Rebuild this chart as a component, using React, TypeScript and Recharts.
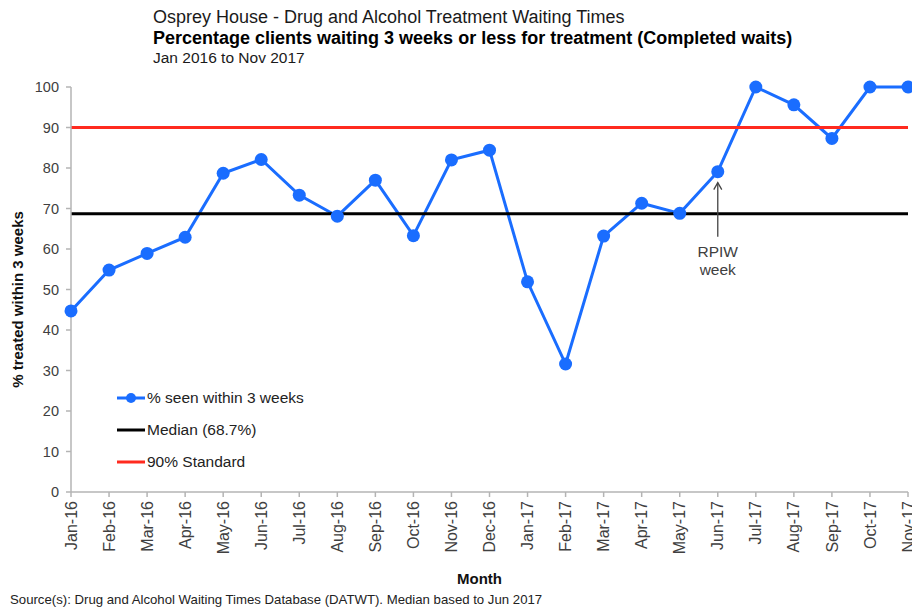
import React from "react";
import {
  LineChart,
  Line,
  XAxis,
  YAxis,
  ReferenceLine,
  ReferenceDot,
  Legend,
} from "recharts";

const MONTHS = [
  "Jan-16", "Feb-16", "Mar-16", "Apr-16", "May-16", "Jun-16", "Jul-16", "Aug-16",
  "Sep-16", "Oct-16", "Nov-16", "Dec-16", "Jan-17", "Feb-17", "Mar-17", "Apr-17",
  "May-17", "Jun-17", "Jul-17", "Aug-17", "Sep-17", "Oct-17", "Nov-17",
];
const PCT_SEEN = [
  44.7, 54.8, 58.9, 62.9, 78.7, 82.1, 73.3, 68.1, 77.0, 63.3, 82.0, 84.4,
  51.9, 31.6, 63.2, 71.3, 68.8, 79.1, 100, 95.6, 87.3, 100, 100,
];
const MEDIAN = 68.7;
const STANDARD = 90;
const Y_TICKS = [0, 10, 20, 30, 40, 50, 60, 70, 80, 90, 100];
const RPIW_MONTH = "Jun-17";

const BLUE = "#1a6dff";
const RED = "#ff2a1f";
const AXIS = "#b4b4b4";
const TEXT = "#404040";
const FONT = '"Liberation Sans", Arial, sans-serif';

const data = MONTHS.map((month, i) => ({ month, seen: PCT_SEEN[i] }));

const XTick = ({ x, y, payload }: any) => (
  <text
    x={x}
    y={y + 2}
    transform={`rotate(-90, ${x}, ${y + 2})`}
    textAnchor="end"
    dy="0.35em"
    fontSize={16}
    fill={TEXT}
  >
    {payload.value}
  </text>
);

// arrow + "RPIW week" note under the Jun-17 point
const RpiwNote = ({ cx, cy }: any) => {
  if (cx == null || cy == null) return null;
  return (
    <g>
      <line x1={cx} y1={cy + 11} x2={cx} y2={cy + 65} stroke="#444" strokeWidth={1.3} />
      <path d={`M${cx - 4},${cy + 18} L${cx},${cy + 11} L${cx + 4},${cy + 18}`} fill="none" stroke="#444" strokeWidth={1.3} />
      <text x={cx} y={cy + 85} textAnchor="middle" fontSize={15.5} fill={TEXT}>RPIW</text>
      <text x={cx} y={cy + 103} textAnchor="middle" fontSize={15.5} fill={TEXT}>week</text>
    </g>
  );
};

const LEGEND_ITEMS = [
  { label: "% seen within 3 weeks", color: BLUE, dot: true },
  { label: `Median (${MEDIAN}%)`, color: "#000", dot: false },
  { label: `${STANDARD}% Standard`, color: RED, dot: false },
];

const LegendBox = () => (
  <div style={{ fontFamily: FONT, fontSize: 15.5, color: "#222" }}>
    {LEGEND_ITEMS.map((it) => (
      <div key={it.label} style={{ height: 32, display: "flex", alignItems: "center" }}>
        <svg width={30} height={14} style={{ marginRight: 1 }}>
          <line x1={1} y1={7} x2={29} y2={7} stroke={it.color} strokeWidth={3} />
          {it.dot && <circle cx={15} cy={7} r={5} fill={it.color} />}
        </svg>
        <span>{it.label}</span>
      </div>
    ))}
  </div>
);

export default function App() {
  return (
    <div
      style={{
        position: "absolute",
        left: 0,
        top: 0,
        width: 912,
        height: 609,
        background: "#fff",
        fontFamily: FONT,
        overflow: "hidden",
      }}
    >
      <svg width={912} height={70} style={{ position: "absolute", left: 0, top: 0 }}>
        <text x={153} y={23} fontSize={18} fill="#1a1a1a">
          Osprey House - Drug and Alcohol Treatment Waiting Times
        </text>
        <text x={153} y={44} fontSize={18} fontWeight="bold" fill="#000">
          Percentage clients waiting 3 weeks or less for treatment (Completed waits)
        </text>
        <text x={153} y={63} fontSize={15.5} fill="#1a1a1a">
          Jan 2016 to Nov 2017
        </text>
      </svg>

      <LineChart
        width={912}
        height={609}
        data={data}
        margin={{ top: 87, right: 4, left: 0, bottom: 0 }}
      >
        <XAxis
          dataKey="month"
          interval={0}
          tick={<XTick />}
          tickSize={5}
          axisLine={{ stroke: AXIS, strokeWidth: 1.5 }}
          tickLine={{ stroke: AXIS, strokeWidth: 1.5 }}
          height={117}
          label={{
            value: "Month",
            position: "insideBottom",
            offset: 25,
            dx: -10,
            style: { fontSize: 15, fontWeight: "bold", fill: "#111" },
          }}
        />
        <YAxis
          width={71}
          domain={[0, 100]}
          ticks={Y_TICKS}
          interval={0}
          tickSize={5}
          tickMargin={7}
          tick={{ fontSize: 14.5, fill: TEXT }}
          axisLine={{ stroke: AXIS, strokeWidth: 1.5 }}
          tickLine={{ stroke: AXIS, strokeWidth: 1.5 }}
          label={{
            value: "% treated within 3 weeks",
            angle: -90,
            position: "center",
            dx: -18,
            dy: 10,
            style: { fontSize: 15, fontWeight: "bold", fill: "#111" },
          }}
        />
        <Line
          dataKey="seen"
          name="% seen within 3 weeks"
          stroke={BLUE}
          strokeWidth={3}
          dot={{ r: 6.5, fill: BLUE, stroke: BLUE, strokeWidth: 0 }}
          activeDot={false}
          isAnimationActive={false}
        />
        <ReferenceLine y={MEDIAN} stroke="#000" strokeWidth={3} />
        <ReferenceLine y={STANDARD} stroke={RED} strokeWidth={3} />
        <ReferenceDot
          x={RPIW_MONTH}
          y={PCT_SEEN[MONTHS.indexOf(RPIW_MONTH)]}
          r={0}
          shape={<RpiwNote />}
        />
        <Legend
          layout="vertical"
          align="center"
          verticalAlign="middle"
          content={<LegendBox />}
          wrapperStyle={{ left: 116, top: 382, width: "auto" }}
        />
      </LineChart>

      <div style={{ position: "absolute", left: 10, top: 592, fontSize: 13.2, color: "#222" }}>
        Source(s): Drug and Alcohol Waiting Times Database (DATWT). Median based to Jun 2017
      </div>
    </div>
  );
}
